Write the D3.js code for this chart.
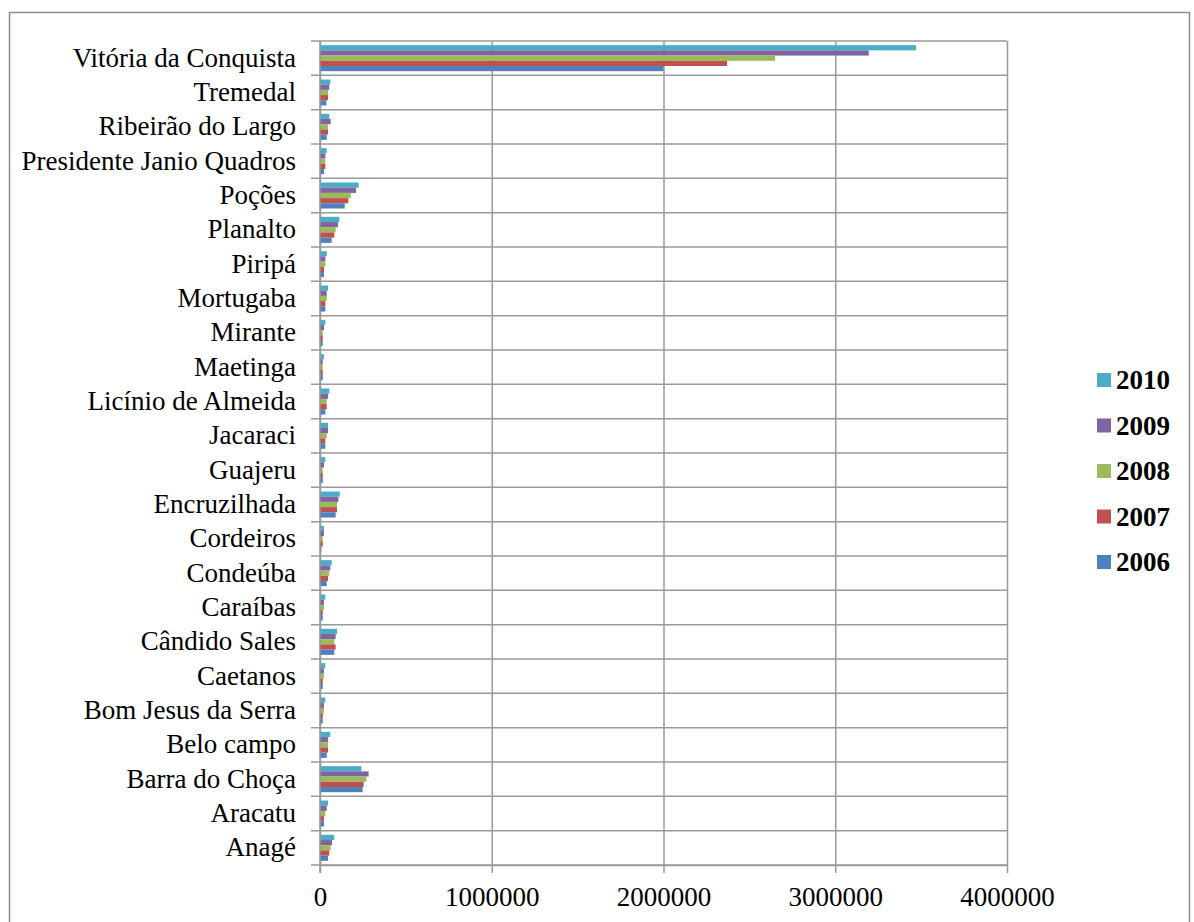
<!DOCTYPE html>
<html>
<head>
<meta charset="utf-8">
<script src="https://cdn.jsdelivr.net/npm/d3@7"></script>
<style>
  body { margin: 0; background: #fff; }
  text { font-family: "Liberation Serif", "Times New Roman", serif; }
</style>
</head>
<body>
<svg width="1194" height="922"></svg>
<script>
// categories top to bottom
let cities = ["Vitória da Conquista", "Tremedal", "Ribeirão do Largo", "Presidente Janio Quadros",
  "Poções", "Planalto", "Piripá", "Mortugaba", "Mirante", "Maetinga", "Licínio de Almeida",
  "Jacaraci", "Guajeru", "Encruzilhada", "Cordeiros", "Condeúba", "Caraíbas", "Cândido Sales",
  "Caetanos", "Bom Jesus da Serra", "Belo campo", "Barra do Choça", "Aracatu", "Anagé"];

let years = ["2010", "2009", "2008", "2007", "2006"];
let colors = ["#4BACC6", "#8064A2", "#9BBB59", "#C0504D", "#4F81BD"];

let v2010 = [3470000, 60000, 54000, 39000, 225000, 113000, 39000, 47000, 31000, 23000, 54000,
  47000, 31000, 115000, 23000, 68000, 31000, 99000, 31000, 31000, 60000, 241000, 47000, 83000];
let v2009 = [3195000, 54000, 62000, 31000, 210000, 105000, 31000, 39000, 23000, 16000, 47000,
  47000, 23000, 107000, 23000, 60000, 23000, 91000, 23000, 23000, 47000, 283000, 39000, 70000];
let v2008 = [2650000, 47000, 47000, 31000, 179000, 91000, 31000, 39000, 16000, 16000, 39000,
  39000, 16000, 99000, 16000, 54000, 23000, 83000, 23000, 23000, 47000, 270000, 31000, 62000];
let v2007 = [2370000, 47000, 47000, 31000, 165000, 83000, 23000, 31000, 16000, 16000, 39000,
  31000, 16000, 99000, 16000, 47000, 16000, 91000, 16000, 16000, 47000, 254000, 23000, 54000];
let v2006 = [2000000, 37000, 39000, 23000, 144000, 68000, 23000, 31000, 16000, 16000, 31000,
  31000, 16000, 91000, 8000, 39000, 16000, 83000, 16000, 16000, 39000, 248000, 23000, 47000];

let xTicks = [0, 1000000, 2000000, 3000000, 4000000];

let series = [v2010, v2009, v2008, v2007, v2006];
let gridColor = "#9a9a9a";

let svg = d3.select("svg");

// outer chart border
svg.append("rect")
  .attr("x", 9.5).attr("y", 12.5)
  .attr("width", 1180).attr("height", 930)
  .attr("fill", "none")
  .attr("stroke", "#8c8c8c")
  .attr("stroke-width", 1.5);

let xScale = d3.scaleLinear().domain([0, 4000000]).range([320, 1007]);
let yScale = d3.scaleBand().domain(cities).range([41, 865]);
let inner = d3.scaleBand().domain(years).range([0, yScale.bandwidth()]).paddingOuter(0.8);

// vertical gridlines
svg.append("g")
  .attr("transform", "translate(0,865)")
  .call(d3.axisBottom(xScale).tickValues(xTicks).tickSize(-824).tickSizeOuter(0).tickFormat(""))
  .call((g) => g.select(".domain").remove())
  .call((g) => g.selectAll("line").attr("stroke", gridColor).attr("stroke-width", 1.5));

// horizontal band lines, extending left as ticks
let bounds = cities.map((c) => yScale(c)).concat([yScale.range()[1]]);
svg.append("g")
  .selectAll("line")
  .data(bounds)
  .enter()
  .append("line")
  .attr("x1", 311)
  .attr("x2", xScale(4000000))
  .attr("y1", (d) => d)
  .attr("y2", (d) => d)
  .attr("stroke", gridColor)
  .attr("stroke-width", 1.5);

// bars
let rows = cities.map((c, i) => ({ city: c, vals: series.map((s, j) => ({ year: years[j], value: s[i] })) }));

svg.append("g")
  .selectAll("g")
  .data(rows)
  .enter()
  .append("g")
  .attr("transform", (d) => "translate(0," + yScale(d.city) + ")")
  .selectAll("rect")
  .data((d) => d.vals)
  .enter()
  .append("rect")
  .attr("x", xScale(0))
  .attr("y", (d) => inner(d.year))
  .attr("width", (d) => xScale(d.value) - xScale(0))
  .attr("height", inner.bandwidth())
  .attr("fill", (d, i) => colors[i]);

// y axis line
svg.append("line")
  .attr("x1", xScale(0)).attr("x2", xScale(0))
  .attr("y1", 41).attr("y2", 873)
  .attr("stroke", gridColor)
  .attr("stroke-width", 1.5);

// x axis with ticks and labels
svg.append("g")
  .attr("transform", "translate(0,865)")
  .call(d3.axisBottom(xScale).tickValues(xTicks).tickSize(8).tickSizeOuter(0).tickPadding(14)
    .tickFormat((d) => String(d)))
  .call((g) => g.select(".domain").attr("stroke", gridColor).attr("stroke-width", 1.5))
  .call((g) => g.selectAll("line").attr("stroke", gridColor).attr("stroke-width", 1.5))
  .call((g) => g.selectAll("text")
    .attr("font-family", "Liberation Serif, serif")
    .attr("font-size", 27)
    .attr("fill", "#000"));

// category labels
svg.append("g")
  .attr("transform", "translate(320,0)")
  .call(d3.axisLeft(yScale).tickSize(0).tickPadding(24))
  .call((g) => g.select(".domain").remove())
  .call((g) => g.selectAll("text")
    .attr("font-family", "Liberation Serif, serif")
    .attr("font-size", 27)
    .attr("fill", "#000"));

// legend
let legend = svg.append("g")
  .selectAll("g")
  .data(years)
  .enter()
  .append("g")
  .attr("transform", (d, i) => "translate(1097," + (373 + i * 45.5) + ")");

legend.append("rect")
  .attr("width", 14)
  .attr("height", 14)
  .attr("fill", (d, i) => colors[i]);

legend.append("text")
  .attr("x", 19)
  .attr("y", 16)
  .attr("font-size", 27)
  .attr("font-weight", "bold")
  .text((d) => d);
</script>
</body>
</html>
